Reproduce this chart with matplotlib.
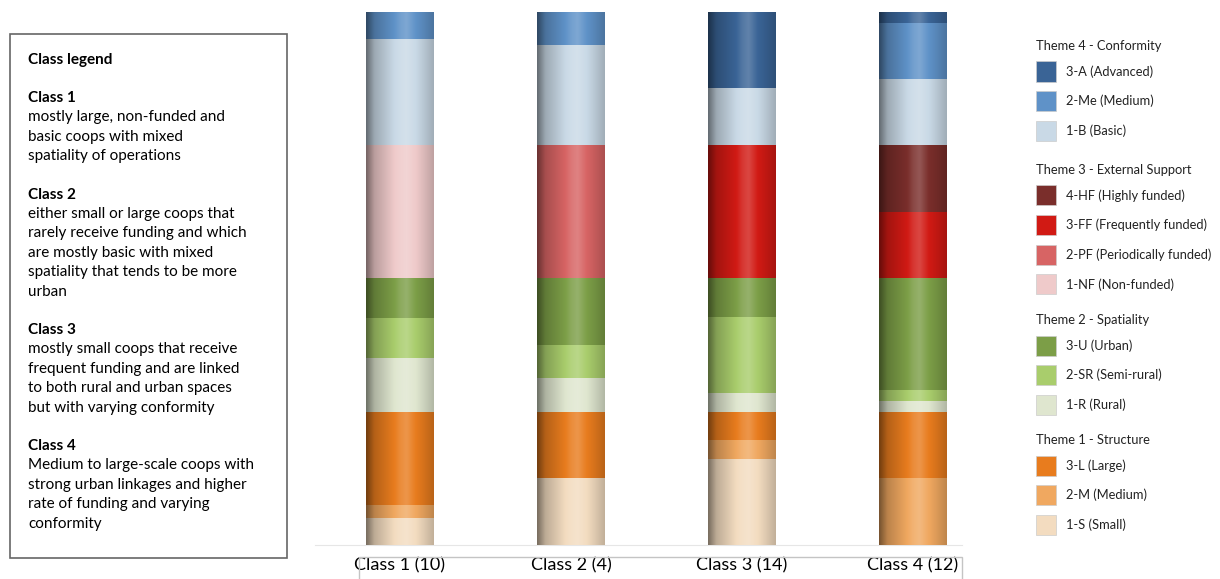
import numpy as np
import matplotlib
matplotlib.use("Agg")
import matplotlib.pyplot as plt
from matplotlib.patches import Rectangle

plt.rcParams["font.family"] = ["Lato", "DejaVu Sans"]

# --- data: counts per class (share of each theme = count / class size) ---
classes = ["Class 1 (10)", "Class 2 (4)", "Class 3 (14)", "Class 4 (12)"]
class_n = [10, 4, 14, 12]

# Theme 1 - Structure
s_small = [2, 2, 9, 0]
s_medium = [1, 0, 2, 6]
s_large = [7, 2, 3, 6]
# Theme 2 - Spatiality
sp_rural = [4, 1, 2, 1]
sp_semirural = [3, 1, 8, 1]
sp_urban = [3, 2, 4, 10]
# Theme 3 - External support
es_nonfunded = [10, 0, 0, 0]
es_periodic = [0, 4, 0, 0]
es_frequent = [0, 0, 14, 6]
es_high = [0, 0, 0, 6]
# Theme 4 - Conformity
c_basic = [8, 3, 6, 6]
c_medium = [2, 1, 0, 5]
c_advanced = [0, 0, 8, 1]

# stacking order bottom -> top
segments = [
    ("1-S (Small)", s_small, "#f3dcc0"),
    ("2-M (Medium)", s_medium, "#f0a860"),
    ("3-L (Large)", s_large, "#e87c1e"),
    ("1-R (Rural)", sp_rural, "#dfe6cf"),
    ("2-SR (Semi-rural)", sp_semirural, "#a9cd6c"),
    ("3-U (Urban)", sp_urban, "#7c9e47"),
    ("1-NF (Non-funded)", es_nonfunded, "#efcaca"),
    ("2-PF (Periodically funded)", es_periodic, "#d76464"),
    ("3-FF (Frequently funded)", es_frequent, "#d11a14"),
    ("4-HF (Highly funded)", es_high, "#7a2e2b"),
    ("1-B (Basic)", c_basic, "#c9d9e6"),
    ("2-Me (Medium)", c_medium, "#5f92c8"),
    ("3-A (Advanced)", c_advanced, "#3a6496"),
]

legend_groups = [
    ("Theme 4 - Conformity", ["3-A (Advanced)", "2-Me (Medium)", "1-B (Basic)"]),
    ("Theme 3 - External Support", ["4-HF (Highly funded)", "3-FF (Frequently funded)",
                                    "2-PF (Periodically funded)", "1-NF (Non-funded)"]),
    ("Theme 2 - Spatiality", ["3-U (Urban)", "2-SR (Semi-rural)", "1-R (Rural)"]),
    ("Theme 1 - Structure", ["3-L (Large)", "2-M (Medium)", "1-S (Small)"]),
]
legend_title_y = [46, 170, 320, 440]

class_text = [
    ("Class 1", ["mostly large, non-funded and", "basic coops with mixed",
                 "spatiality of operations"]),
    ("Class 2", ["either small or large coops that", "rarely receive funding and which",
                 "are mostly basic with mixed", "spatiality that tends to be more", "urban"]),
    ("Class 3", ["mostly small coops that receive", "frequent funding and are linked",
                 "to both rural and urban spaces", "but with varying conformity"]),
    ("Class 4", ["Medium to large-scale coops with", "strong urban linkages and higher",
                 "rate of funding and varying", "conformity"]),
]

W, H = 1220, 579
fig = plt.figure(figsize=(W / 100, H / 100), dpi=100)
ax = fig.add_axes([315 / W, (H - 545) / H, 647 / W, 533 / H])

x = np.arange(len(classes))
bar_w = 0.392
bottom = np.zeros(len(classes))
n = np.array(class_n, dtype=float)


def shade(color, steps=60):
    # cylinder-like horizontal shading
    base = np.array(matplotlib.colors.to_rgb(color))
    t = np.linspace(0, 1, steps)
    f = np.interp(t, [0, 0.12, 0.5, 0.6, 0.85, 1.0], [0.5, 0.78, 1.06, 1.1, 0.92, 0.8])
    img = np.zeros((1, steps, 3))
    for i, fi in enumerate(f):
        if fi <= 1:
            img[0, i] = base * fi
        else:
            img[0, i] = base + (1 - base) * (fi - 1) * 2.0
    return np.clip(img, 0, 1)


for label, counts, color in segments:
    vals = np.array(counts) / n
    bars = ax.bar(x, vals, bar_w, bottom=bottom, color=color, linewidth=0)
    for b in bars:
        if b.get_height() <= 0:
            continue
        x0, y0 = b.get_x(), b.get_y()
        ax.imshow(shade(color), extent=[x0, x0 + b.get_width(), y0, y0 + b.get_height()],
                  aspect="auto", interpolation="bicubic", zorder=3)
    bottom += vals

ax.set_xlim(-0.497, 3.287)
ax.set_ylim(0, 4)
ax.set_xticks(x)
ax.set_xticklabels(classes, fontsize=13)
ax.tick_params(axis="x", length=0, pad=9)
ax.set_yticks([])
for s in ["top", "left", "right"]:
    ax.spines[s].set_visible(False)
ax.spines["bottom"].set_color("#e6e6e6")

# box around the tick labels
fig.patches.append(Rectangle((359 / W, -0.01), (962 - 359) / W, (H - 557) / H + 0.01,
                             transform=fig.transFigure, fill=False, edgecolor="#c4c4c4", lw=1))

# right legend
colors = {lab: col for lab, _, col in segments}
for (title, items), ty in zip(legend_groups, legend_title_y):
    fig.text(1036 / W, 1 - ty / H, title, fontsize=9.3, va="center", ha="left", color="#222222")
    y = ty + 25.5
    for it in items:
        fig.patches.append(Rectangle((1036 / W, 1 - (y + 10) / H), 20 / W, 20 / H,
                                     transform=fig.transFigure, facecolor=colors[it],
                                     edgecolor="#cccccc", lw=0.5))
        fig.text(1066 / W, 1 - y / H, it, fontsize=9.3, va="center", ha="left", color="#222222")
        y += 29.6

# left class legend box
fig.patches.append(Rectangle((10 / W, 1 - 558 / H), 277 / W, 524 / H,
                             transform=fig.transFigure, fill=False, edgecolor="#666666", lw=1.2))
fig.text(28 / W, 1 - 60 / H, "Class legend", fontsize=11, fontweight="bold", va="center")
y = 98
for head, lines in class_text:
    fig.text(28 / W, 1 - y / H, head, fontsize=11, fontweight="bold", va="center")
    y += 19.4
    for ln in lines:
        fig.text(28 / W, 1 - y / H, ln, fontsize=11, va="center")
        y += 19.4
    y += 19

fig.savefig("out.png", dpi=100)
